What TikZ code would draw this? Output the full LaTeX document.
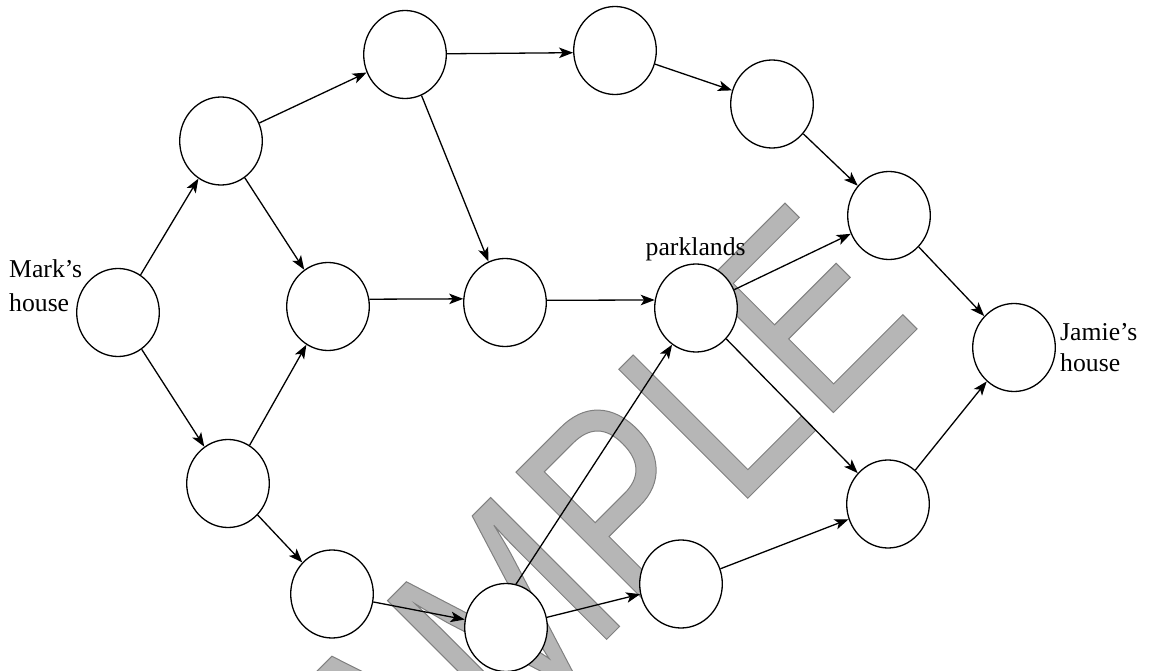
\documentclass[tikz,border=0pt]{standalone}
\usepackage{fontspec}
\setmainfont{Liberation Serif}
\newfontfamily\wmfont[FakeStretch=0.823]{Liberation Sans}
\usetikzlibrary{shapes.geometric,arrows.meta}
\definecolor{wmgray}{RGB}{182,182,182}
\begin{document}
\begin{tikzpicture}[x=1pt,y=-1pt,
  vtx/.style={ellipse,draw,fill=white,line width=1.3pt,minimum width=82.6pt,minimum height=88pt,inner sep=0pt},
  arr/.style={-{Stealth[length=14pt,width=10.5pt,inset=3.5pt]},line width=1.3pt},
  lbl/.style={inner sep=0pt,align=left}]
\useasboundingbox (0,0) rectangle (1149,671);
% watermark
\node[rotate=45,anchor=base west,inner sep=0pt,text=wmgray,font=\wmfont\fontsize{265}{265}\selectfont] (wm) at (297.9,948.1)
  {\special{pdf:literal direct 2 Tr 0.5 G 1 w}SAMPLE\special{pdf:literal direct 0 Tr}};
% vertices
\node[vtx] (A) at (118,312.5) {};
\node[vtx] (B) at (221,141) {};
\node[vtx] (C) at (328,306.5) {};
\node[vtx] (D) at (228,483.5) {};
\node[vtx] (E) at (405,54.5) {};
\node[vtx] (F) at (505,302.5) {};
\node[vtx] (G) at (332,594) {};
\node[vtx] (H) at (615,50.5) {};
\node[vtx] (I) at (772,104) {};
\node[vtx] (J) at (696,308) {};
\node[vtx] (K) at (506,627.5) {};
\node[vtx] (L) at (681,584) {};
\node[vtx] (M) at (889,215.5) {};
\node[vtx] (N) at (1014,347.5) {};
\node[vtx] (O) at (888,504) {};
% edges
\draw[arr] (A) -- (B);
\draw[arr] (A) -- (D);
\draw[arr] (B) -- (E);
\draw[arr] (B) -- (C);
\draw[arr] (D) -- (C);
\draw[arr] (D) -- (G);
\draw[arr] (E.1) -- (H.183);
\draw[arr] (E) -- (F);
\draw[arr] (C.10) -- (F.175.5);
\draw[arr] (F.3.5) -- (J.169);
\draw[arr] (H) -- (I);
\draw[arr] (I) -- (M);
\draw[arr] (J) -- (M);
\draw[arr] (J) -- (O);
\draw[arr] (M) -- (N);
\draw[arr] (O) -- (N);
\draw[arr] (G) -- (K);
\draw[arr] (K.77) -- (J);
\draw[arr] (K) -- (L);
\draw[arr] (L) -- (O);
% labels
\node[lbl,anchor=base west,font=\fontsize{25.7}{34}\selectfont] (markl) at (9,311.7) {Mark’s\\house};
\node[lbl,anchor=base west,font=\fontsize{25.7}{31}\selectfont] (parkl) at (645.5,256) {parklands};
\node[lbl,anchor=base west,font=\fontsize{25.7}{31}\selectfont] (jamiel) at (1060,371.7) {Jamie’s\\house};
\end{tikzpicture}
\end{document}
